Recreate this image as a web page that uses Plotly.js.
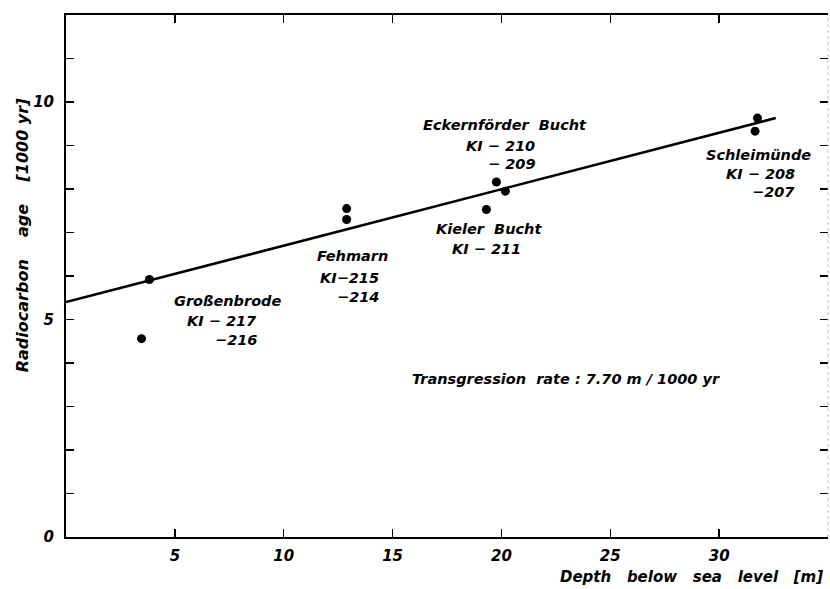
<!DOCTYPE html>
<html>
<head>
<meta charset="utf-8">
<script src="https://cdn.plot.ly/plotly-3.0.1.min.js"></script>
<style>html,body{margin:0;padding:0;background:#fff;}#chart{width:830px;height:589px;}</style>
</head>
<body>
<div id="chart"></div>
<script>
// Sample data (depth m, radiocarbon age in 1000 yr)
const siteNames = ["Großenbrode","Großenbrode","Fehmarn","Fehmarn","Kieler Bucht","Eckernförder Bucht","Eckernförder Bucht","Schleimünde","Schleimünde"];
const depth = [3.83, 3.47, 12.89, 12.89, 19.31, 19.77, 20.18, 31.76, 31.65];
const age   = [5.92, 4.56, 7.55, 7.30, 7.53, 8.16, 7.95, 9.63, 9.33];
// Transgression line
const lineDepth = [0, 32.6];
const lineAge   = [5.40, 9.63];
// Axis ticks
const xTicks = [5, 10, 15, 20, 25, 30];
const yTicks = [0,1,2,3,4,5,6,7,8,9,10,11];
const yTickText = ["0","","","","","5","","","","","10",""];

const F = "DejaVu Sans";
const fnt = (s, w)=>({family:F, size:s, color:"#000", style:"italic", weight:w||"bold"});

const traces = [
  {x: lineDepth, y: lineAge, mode:"lines", line:{color:"#000", width:2.6}, hoverinfo:"skip", showlegend:false},
  {x: depth, y: age, text: siteNames, mode:"markers", marker:{color:"#000", size:9}, showlegend:false}
];

function lab(t, x, y, anchor){
  return {text:t, x:x, y:y, xref:"x", yref:"y", showarrow:false, xanchor:anchor||"center", yanchor:"middle", font:fnt(14.5)};
}
const annotations = [
  lab("Großenbrode", 7.40, 5.43),
  lab("KI − 217", 8.85, 4.97, "right"),
  lab("−216", 8.85, 4.54, "right"),
  lab("Fehmarn", 13.17, 6.45),
  lab("KI−215", 14.45, 5.96, "right"),
  lab("−214", 14.45, 5.52, "right"),
  lab("Kieler  Bucht", 19.45, 7.07),
  lab("KI − 211", 19.31, 6.61),
  lab("Eckernförder  Bucht", 20.18, 9.48),
  lab("KI − 210", 21.64, 8.98, "right"),
  lab("− 209", 21.64, 8.58, "right"),
  lab("Schleimünde", 31.83, 8.79),
  lab("KI − 208", 33.56, 8.35, "right"),
  lab("−207", 33.56, 7.92, "right"),
  lab("Transgression  rate : 7.70 m / 1000 yr", 22.96, 3.63),
  {text:"Radiocarbon    age    [1000 yr]", xref:"paper", yref:"paper", x:0, y:0.578, xshift:-44, textangle:-90,
   showarrow:false, xanchor:"center", yanchor:"middle", font:fnt(16)},
  {text:"Depth   below   sea   level   [m]", xref:"paper", yref:"paper", x:1, y:0, yshift:-40, xshift:-3,
   showarrow:false, xanchor:"right", yanchor:"middle", font:fnt(15)}
];

const layout = {
  width:830, height:589,
  margin:{l:66, r:2, t:15, b:52},
  paper_bgcolor:"#fff", plot_bgcolor:"#fff",
  showlegend:false,
  xaxis:{range:[0,35], tickvals:xTicks, ticks:"inside", ticklen:8, tickwidth:1.5, tickcolor:"#000",
         showline:true, linewidth:2, linecolor:"#000", mirror:"ticks", showgrid:false, zeroline:false,
         tickfont:fnt(15), ticklabelstandoff:4},
  yaxis:{range:[0,12], tickvals:yTicks, ticktext:yTickText, ticks:"inside", ticklen:8, tickwidth:1.5, tickcolor:"#000",
         showline:true, linewidth:2, linecolor:"#000", mirror:false, showgrid:false, zeroline:false,
         tickfont:fnt(15), ticklabelstandoff:7},
  yaxis2:{range:[0,12], overlaying:"y", side:"right", tickvals:yTicks.slice(1), ticks:"inside", ticklen:8, tickwidth:1.5,
          tickcolor:"#000", showticklabels:false, showline:false, showgrid:false, zeroline:false},
  shapes:[{type:"line", xref:"paper", yref:"paper", x0:1, x1:1, y0:0, y1:1, line:{color:"#bbb", width:1, dash:"dot"}}],
  annotations: annotations
};
traces.push({x:[0], y:[0], yaxis:"y2", mode:"markers", marker:{opacity:0}, hoverinfo:"skip", showlegend:false});
Plotly.newPlot("chart", traces, layout, {displayModeBar:false, staticPlot:true});
</script>
</body>
</html>
